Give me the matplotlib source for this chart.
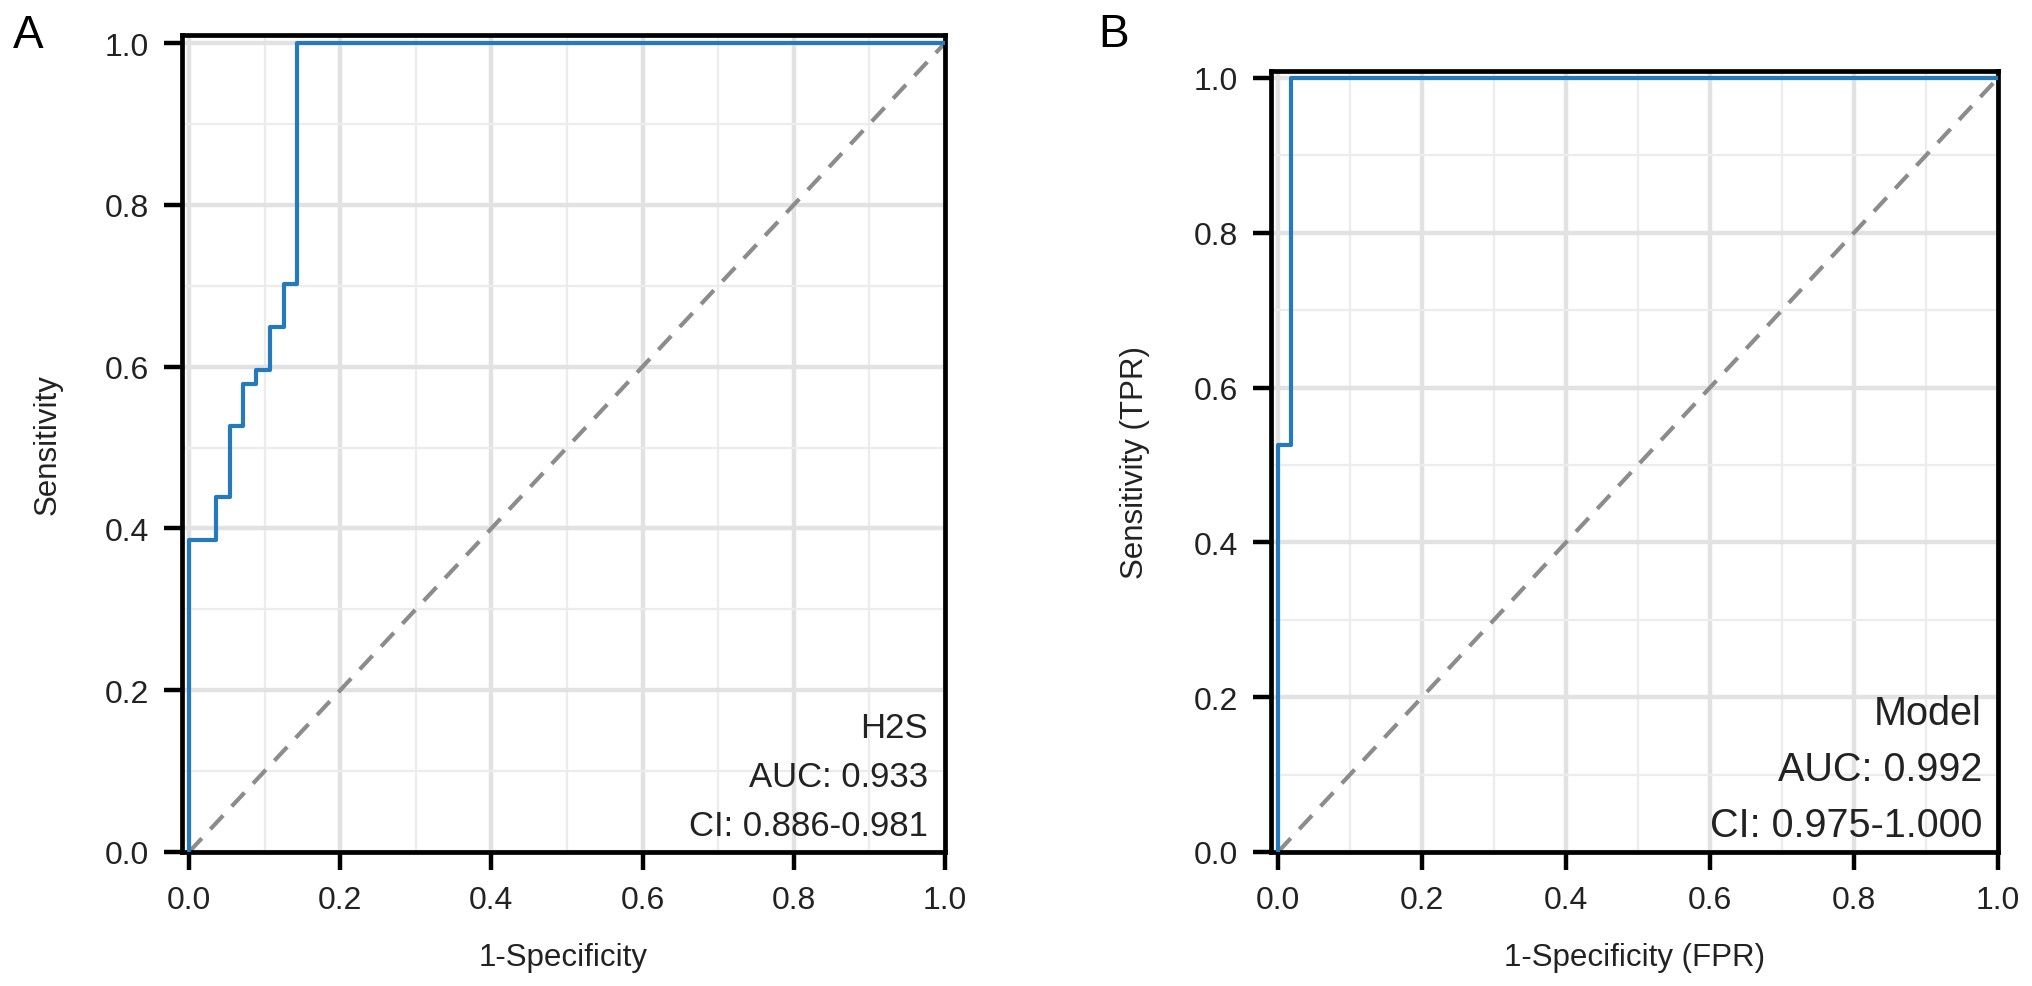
import matplotlib
matplotlib.use("Agg")
import matplotlib.pyplot as plt
from matplotlib.ticker import MultipleLocator

plt.rcParams["font.family"] = ["Liberation Sans", "DejaVu Sans"]

# panel A: H2S ROC corner points
h2s_fpr = [0.0, 0.0, 0.036, 0.054, 0.071, 0.089, 0.107, 0.125, 0.143, 1.0]
h2s_tpr = [0.0, 0.386, 0.439, 0.526, 0.579, 0.596, 0.649, 0.702, 1.0, 1.0]
h2s_text = ["H2S", "AUC: 0.933", "CI: 0.886-0.981"]

# panel B: model ROC
model_fpr = [0.0, 0.0, 0.018, 1.0]
model_tpr = [0.0, 0.526, 1.0, 1.0]
model_text = ["Model", "AUC: 0.992", "CI: 0.975-1.000"]

ticks = [0.0, 0.2, 0.4, 0.6, 0.8, 1.0]
tick_labels = ["0.0", "0.2", "0.4", "0.6", "0.8", "1.0"]

W, H = 2032, 987
BLUE = "#2579bd"


def px_box(left, right, top, bottom):
    return [left / W, 1 - bottom / H, (right - left) / W, (bottom - top) / H]


def draw_roc(ax, fpr, tpr, xlim, ylim, xlabel, ylabel, notes, note_size,
             note_x, note_y0, note_dy, xlab_y, ylab_x):
    ax.set_xlim(*xlim)
    ax.set_ylim(*ylim)
    ax.xaxis.set_major_locator(MultipleLocator(0.2))
    ax.yaxis.set_major_locator(MultipleLocator(0.2))
    ax.xaxis.set_minor_locator(MultipleLocator(0.1))
    ax.yaxis.set_minor_locator(MultipleLocator(0.1))
    ax.grid(which="major", color="#e2e2e2", lw=3.2, zorder=0)
    ax.grid(which="minor", color="#ececec", lw=1.6, zorder=0)
    ax.set_axisbelow(True)

    ax.plot([0, 1], [0, 1], color="#8c8c8c", lw=3.0, dashes=(4.5, 3), zorder=2)
    ax.plot(fpr, tpr, drawstyle="steps-post", color=BLUE, lw=3.0, zorder=3)

    ax.set_xticks(ticks)
    ax.set_xticklabels(tick_labels)
    ax.set_yticks(ticks)
    ax.set_yticklabels(tick_labels)
    ax.tick_params(which="major", direction="out", length=13, width=3.2,
                   pad=11, labelsize=23, labelcolor="#222222")
    ax.tick_params(which="minor", length=0)
    for s in ax.spines.values():
        s.set_linewidth(3.4)
        s.set_color("black")

    ax.set_xlabel(xlabel, fontsize=22.5, color="#222222", va="baseline")
    ax.xaxis.set_label_coords(0.5, xlab_y)
    ax.set_ylabel(ylabel, fontsize=22.5, color="#222222", va="center")
    ax.yaxis.set_label_coords(ylab_x, 0.5)

    for i, t in enumerate(notes):
        ax.text(note_x, note_y0 - i * note_dy, t, transform=ax.transData,
                ha="right", va="baseline", fontsize=note_size, color="#222222",
                zorder=4)


fig = plt.figure(figsize=(W / 100, H / 100), dpi=100)

ax1 = fig.add_axes(px_box(182, 945, 36, 853))
draw_roc(ax1, h2s_fpr, h2s_tpr, (-0.0093, 1.0), (0.0, 1.0099),
         "1-Specificity", "Sensitivity", h2s_text, 25,
         (928 - 189) / 756, (853 - 738) / 809, 49 / 809,
         -113 / 817, -0.176)

ax2 = fig.add_axes(px_box(1271, 1998, 72, 853))
draw_roc(ax2, model_fpr, model_tpr, (-0.0097, 1.0), (0.0, 1.009),
         "1-Specificity (FPR)", "Sensitivity (TPR)", model_text, 28.5,
         (1982 - 1278) / 720, (853 - 725) / 774, 56 / 774,
         -113 / 781, -0.187)

fig.text(13 / W, 1 - 48 / H, "A", fontsize=33, va="baseline", ha="left")
fig.text(1098 / W, 1 - 47 / H, "B", fontsize=33, va="baseline", ha="left")

fig.savefig("out.png", dpi=100)
